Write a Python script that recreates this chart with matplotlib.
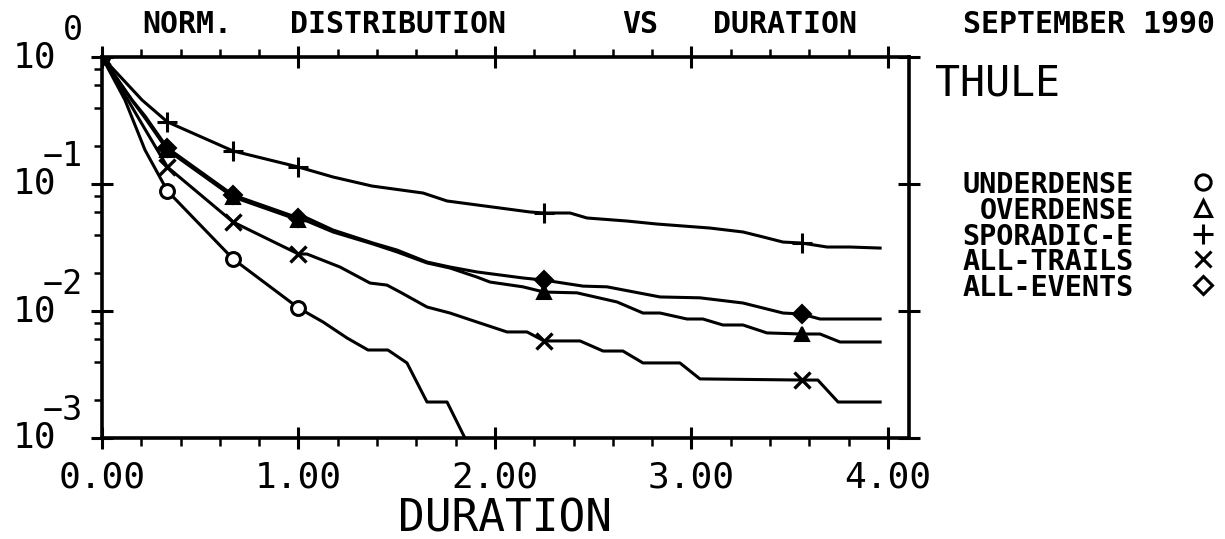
import numpy as np
import matplotlib
matplotlib.use('Agg')
from matplotlib import pyplot as plt
from matplotlib import transforms
from matplotlib.ticker import MultipleLocator, LogLocator, NullFormatter

plt.rcParams['font.family'] = ['DejaVu Sans Mono', 'DejaVu Sans']

# durations and normalized fraction
under_x = [0, 0.117, 0.219, 0.333, 0.667, 1.0, 1.125, 1.247, 1.354, 1.455, 1.552, 1.654, 1.756, 1.847, 1.924]
under_y = [1.0, 0.458, 0.185, 0.0881, 0.0257, 0.01056, 0.00819, 0.00613, 0.00493, 0.00493, 0.0039,
           0.00192, 0.00192, 0.001, 0.00056]

over_x = [0, 0.155, 0.219, 0.333, 0.667, 1.0, 1.043, 1.176, 1.379, 1.501, 1.654, 1.771, 1.908, 1.975, 2.142,
          2.25, 2.417, 2.621, 2.753, 2.840, 2.977, 3.058, 3.160, 3.262, 3.384, 3.56, 3.654, 3.756, 3.96]
over_y = [1.0, 0.45, 0.331, 0.185, 0.079, 0.0521, 0.0511, 0.0419, 0.0337, 0.0292, 0.0239, 0.0218, 0.0185,
          0.0169, 0.0155, 0.0141, 0.0139, 0.01178, 0.00964, 0.00964, 0.00865, 0.00865, 0.00776,
          0.00776, 0.00672, 0.00659, 0.00659, 0.0057, 0.0057]

spor_x = [0, 0.204, 0.333, 0.667, 1.0, 1.176, 1.374, 1.634, 1.756, 1.908, 2.178, 2.25, 2.382, 2.468,
          2.672, 2.824, 3.094, 3.262, 3.364, 3.466, 3.56, 3.69, 3.807, 3.96]
spor_y = [1.0, 0.458, 0.308, 0.182, 0.136, 0.1135, 0.0964, 0.0849, 0.0735, 0.0684, 0.0602, 0.0591,
          0.0591, 0.0540, 0.0511, 0.0484, 0.0450, 0.0419, 0.0383, 0.0349, 0.0343, 0.0319, 0.0319, 0.0313]

trail_x = [0, 0.132, 0.219, 0.333, 0.667, 1.0, 1.043, 1.211, 1.364, 1.450, 1.517, 1.654, 1.771, 1.908, 2.061,
           2.163, 2.25, 2.433, 2.550, 2.651, 2.753, 2.941, 3.043, 3.56, 3.643, 3.746, 3.96]
trail_y = [1.0, 0.458, 0.27, 0.136, 0.0502, 0.0281, 0.0281, 0.0222, 0.0166, 0.016, 0.0141, 0.01075, 0.00964,
           0.00819, 0.00684, 0.00684, 0.00581, 0.00581, 0.00484, 0.00484, 0.0039, 0.0039, 0.00292,
           0.00286, 0.00286, 0.00192, 0.00192]

event_x = [0, 0.153, 0.219, 0.333, 0.667, 1.0, 1.043, 1.176, 1.379, 1.501, 1.654, 1.771, 1.908, 2.142, 2.25,
           2.448, 2.570, 2.840, 3.043, 3.262, 3.466, 3.56, 3.654, 3.96]
event_y = [1.0, 0.458, 0.343, 0.192, 0.0819, 0.054, 0.054, 0.0434, 0.0343, 0.0302, 0.0243, 0.0222, 0.0203,
           0.0182, 0.0175, 0.0157, 0.0155, 0.0129, 0.0127, 0.01156, 0.00964, 0.00947, 0.00865, 0.00865]

mark_at = [0, 0.333, 0.667, 1.0, 2.25, 3.56]

labels = ['UNDERDENSE', 'OVERDENSE', 'SPORADIC-E', 'ALL-TRAILS', 'ALL-EVENTS']
xticks = [0, 1, 2, 3, 4]
xlabels = ['0.00', '1.00', '2.00', '3.00', '4.00']
exps = [0, -1, -2, -3]

W, H = 1225, 539
fig = plt.figure(figsize=(W / 100, H / 100), dpi=100)


def fx(px):
    return px / W


def fy(py):
    return 1 - py / H


ax = fig.add_axes([fx(102), fy(438), fx(909) - fx(102), fy(57) - fy(438)])

series = [
    (under_x, under_y, dict(marker='o', ms=10, mfc='white', mew=2.2)),
    (over_x, over_y, dict(marker='^', ms=10, mfc='black', mew=1.5)),
    (spor_x, spor_y, dict(marker='+', ms=14, mew=2.2)),
    (trail_x, trail_y, dict(marker='x', ms=12, mew=2.4)),
    (event_x, event_y, dict(marker='D', ms=9, mfc='black', mew=1.5)),
]
for xs, ys, st in series:
    idx = list(np.where(np.isin(np.round(xs, 3), mark_at))[0])
    ax.plot(xs, ys, color='black', lw=2.2, markevery=idx, mec='black', **st)

ax.set_yscale('log')
ax.set_ylim(1e-3, 1)
ax.set_xlim(0, 4.107)
ax.set_xticks(xticks)
ax.xaxis.set_minor_locator(MultipleLocator(0.2))
ax.yaxis.set_minor_locator(LogLocator(base=10, subs=[2, 4, 6, 8]))
ax.yaxis.set_minor_formatter(NullFormatter())
for s in ax.spines.values():
    s.set_linewidth(2.6)
ax.tick_params(which='major', direction='inout', length=16, width=2.2,
               top=True, right=True, labelbottom=False, labelleft=False)
ax.tick_params(which='minor', direction='out', length=6, width=1.8,
               top=True, right=False, bottom=True, left=True)

# y tick labels drawn as plotter-style 10 with raised exponent
ytrans = transforms.blended_transform_factory(fig.transFigure, ax.transData)
etrans = transforms.offset_copy(ytrans, fig=fig, x=0, y=27, units='dots')
for e in exps:
    ax.text(fx(56), 10.0 ** e, '10', transform=ytrans, ha='right', va='center',
            fontsize=26, clip_on=False)
    ax.text(fx(83), 10.0 ** e, str(e).replace('-', '\u2212'), transform=etrans,
            ha='right', va='center', fontsize=24, clip_on=False)

# x tick labels
xtrans = transforms.blended_transform_factory(ax.transData, fig.transFigure)
for v, lab in zip(xticks, xlabels):
    ax.text(v, fy(488), lab, transform=xtrans, ha='center', va='baseline',
            fontsize=26, clip_on=False)
fig.text(fx(505), fy(531), 'DURATION', ha='center', va='baseline', fontsize=32)

# title row
for px, word in [(142, 'NORM.'), (290, 'DISTRIBUTION'), (622, 'VS'), (713, 'DURATION'),
                 (963, 'SEPTEMBER 1990')]:
    fig.text(fx(px), fy(33), word, ha='left', va='baseline', fontsize=21.5, fontweight='bold')

fig.text(fx(935), fy(95), 'THULE', ha='left', va='baseline', fontsize=30)

# legend
leg_marks = [dict(marker='o', ms=11, mfc='white', mew=2.2),
             dict(marker='^', ms=11, mfc='white', mew=2.2),
             dict(marker='+', ms=15, mew=2.2),
             dict(marker='x', ms=12, mew=2.2),
             dict(marker='D', ms=9, mfc='white', mew=2.2)]
for i, (lab, st) in enumerate(zip(labels, leg_marks)):
    py = 182 + 25.8 * i
    fig.text(fx(1134), fy(py), lab, ha='right', va='center_baseline', fontsize=20.5,
             fontweight='bold')
    ax.plot([fx(1203)], [fy(py)], transform=fig.transFigure, color='black', mec='black',
            clip_on=False, **st)

fig.savefig('out.png', dpi=100)
